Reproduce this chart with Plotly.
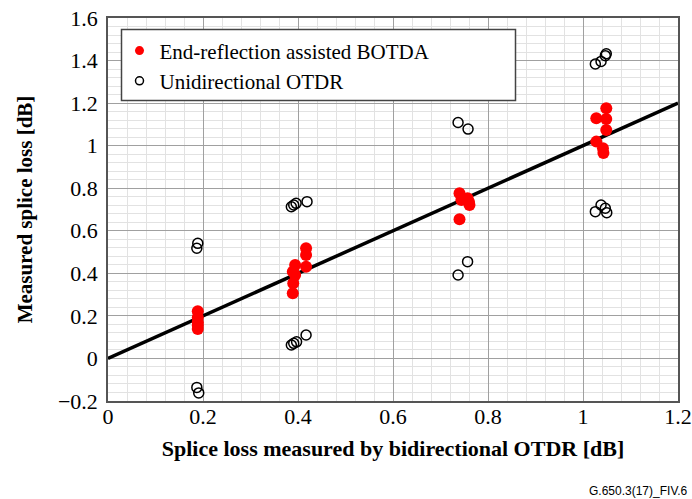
import plotly.graph_objects as go

# Splice loss measured by bidirectional OTDR (x) vs. other methods (y), in dB
botda_x = [0.189, 0.189, 0.189, 0.189, 0.189,
           0.389, 0.390, 0.394, 0.394, 0.389, 0.417, 0.417, 0.417,
           0.740, 0.744, 0.757, 0.761, 0.760, 0.740,
           1.049, 1.028, 1.049, 1.049, 1.028, 1.042, 1.043]
botda_y = [0.222, 0.192, 0.170, 0.155, 0.138,
           0.306, 0.353, 0.392, 0.439, 0.408, 0.431, 0.486, 0.518,
           0.776, 0.745, 0.753, 0.721, 0.735, 0.654,
           1.176, 1.129, 1.125, 1.074, 1.019, 0.988, 0.965]

otdr_x = [0.189, 0.187, 0.187, 0.191,
          0.386, 0.391, 0.396, 0.419, 0.386, 0.391, 0.397, 0.417,
          0.737, 0.758, 0.757, 0.737,
          1.026, 1.038, 1.047, 1.049, 1.026, 1.038, 1.047, 1.050]
otdr_y = [0.541, 0.518, -0.136, -0.162,
          0.713, 0.721, 0.729, 0.737, 0.063, 0.071, 0.078, 0.110,
          1.109, 1.078, 0.455, 0.392,
          1.384, 1.396, 1.423, 1.432, 0.690, 0.721, 0.706, 0.685]

ref_x = [0, 1.2]
ref_y = [0, 1.2]

x_ticks = [0, 0.2, 0.4, 0.6, 0.8, 1.0, 1.2]
x_tick_text = ["0", "0.2", "0.4", "0.6", "0.8", "1", "1.2"]
y_ticks = [-0.2, 0, 0.2, 0.4, 0.6, 0.8, 1.0, 1.2, 1.4, 1.6]
y_tick_text = ["\u22120.2", "0", "0.2", "0.4", "0.6", "0.8", "1", "1.2", "1.4", "1.6"]

serif = "Liberation Serif, Times New Roman, serif"
BOTDA_RED = "#ff0000"

fig = go.Figure()

fig.add_trace(go.Scatter(
    x=ref_x, y=ref_y, mode="lines",
    line=dict(color="black", width=3.5),
    showlegend=False, hoverinfo="skip",
))
fig.add_trace(go.Scatter(
    x=otdr_x, y=otdr_y, mode="markers", name="Unidirectional OTDR",
    marker=dict(symbol="circle-open", size=10, color="black", line=dict(width=1.5)),
    showlegend=False,
))
fig.add_trace(go.Scatter(
    x=botda_x, y=botda_y, mode="markers", name="End-reflection assisted BOTDA",
    marker=dict(symbol="circle", size=12, color=BOTDA_RED),
    showlegend=False,
))

# legend entries with smaller symbols
fig.add_trace(go.Scatter(
    x=[None], y=[None], mode="markers", name="End-reflection assisted BOTDA",
    marker=dict(symbol="circle", size=9, color=BOTDA_RED),
))
fig.add_trace(go.Scatter(
    x=[None], y=[None], mode="markers", name="Unidirectional OTDR",
    marker=dict(symbol="circle-open", size=8, color="black", line=dict(width=1.5)),
))

axis_common = dict(
    showgrid=True, gridcolor="#a0a0a0", gridwidth=1,
    zeroline=False, automargin=False,
    showline=True, linecolor="#555555", linewidth=1.5, mirror=True,
    ticks="", tickfont=dict(family=serif, size=22, color="black"),
    minor=dict(showgrid=True, gridcolor="#e2e2e2", gridwidth=1, dtick=0.04),
)

fig.update_xaxes(
    range=[0, 1.2], tickvals=x_ticks, ticktext=x_tick_text,
    ticklabelstandoff=-5,
    title=dict(text="<b>Splice loss measured by bidirectional OTDR [dB]</b>",
               font=dict(family=serif, size=22, color="black"), standoff=12),
    **axis_common,
)
fig.update_yaxes(
    range=[-0.2, 1.6], tickvals=y_ticks, ticktext=y_tick_text,
    ticklabelstandoff=4,
    title=dict(text="<b>Measured splice loss [dB]</b>",
               font=dict(family=serif, size=21, color="black"), standoff=20),
    **axis_common,
)

# legend frame
fig.add_shape(
    type="rect", xref="paper", yref="paper",
    x0=(122 - 108.5) / 570, x1=(516 - 108.5) / 570,
    y0=(401 - 101) / 382.4, y1=(401 - 30) / 382.4,
    fillcolor="white", line=dict(color="#444444", width=1.5), layer="above",
)

fig.update_layout(
    width=692, height=499,
    margin=dict(l=108, r=14, t=18, b=98),
    paper_bgcolor="white", plot_bgcolor="white",
    showlegend=True,
    legend=dict(
        x=(120 - 108.5) / 570, y=(401 - 31) / 382.4,
        xanchor="left", yanchor="top",
        bgcolor="rgba(0,0,0,0)", borderwidth=0,
        font=dict(family=serif, size=21, color="black"),
        itemsizing="trace",
    ),
    annotations=[dict(
        text="G.650.3(17)_FIV.6", xref="paper", yref="paper",
        x=1.0, y=-0.212, xanchor="right", yanchor="top", xshift=12,
        showarrow=False,
        font=dict(family="Liberation Sans, Arial, sans-serif", size=12, color="black"),
    )],
)

fig.write_html("out.html")
